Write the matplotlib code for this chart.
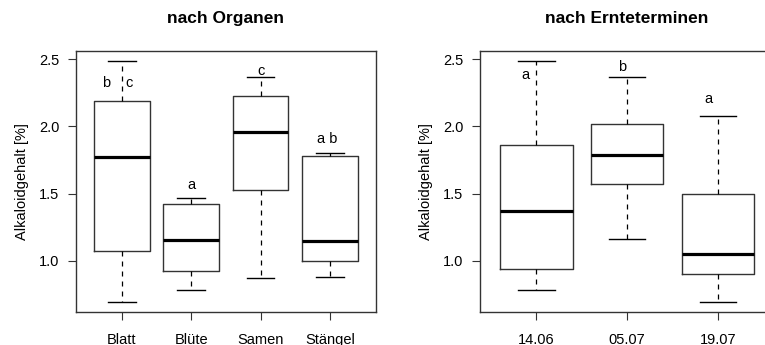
import matplotlib.pyplot as plt

plt.rcParams["font.family"] = ["Liberation Sans", "DejaVu Sans"]

# Alkaloidgehalt nach Organen
organ_labels = ["Blatt", "Blüte", "Samen", "Stängel"]
organ_whislo = [0.69, 0.78, 0.87, 0.88]
organ_q1 = [1.07, 0.92, 1.53, 1.00]
organ_med = [1.77, 1.155, 1.96, 1.15]
organ_q3 = [2.19, 1.42, 2.225, 1.78]
organ_whishi = [2.49, 1.47, 2.37, 1.80]
organ_letters = [("b", 0.77, 2.32), ("c", 1.11, 2.32), ("a", 2.0, 1.565),
                 ("c", 3.0, 2.415), ("a b", 3.96, 1.905)]

# Alkaloidgehalt nach Ernteterminen
date_labels = ["14.06", "05.07", "19.07"]
date_whislo = [0.78, 1.16, 0.69]
date_q1 = [0.94, 1.575, 0.90]
date_med = [1.37, 1.79, 1.05]
date_q3 = [1.86, 2.015, 1.495]
date_whishi = [2.49, 2.37, 2.08]
date_letters = [("a", 0.88, 2.38), ("b", 1.95, 2.44), ("a", 2.9, 2.205)]

EDGE = "#333333"


def draw_panel(ax, labels, whislo, q1, med, q3, whishi, letters, title):
    stats = []
    for i, lab in enumerate(labels):
        stats.append(dict(label=lab, whislo=whislo[i], q1=q1[i], med=med[i],
                          q3=q3[i], whishi=whishi[i], fliers=[]))
    n = len(labels)
    pos = list(range(1, n + 1))
    ax.bxp(stats, positions=pos, widths=0.8, capwidths=0.4, showfliers=False,
           boxprops=dict(color=EDGE, linewidth=1.0),
           whiskerprops=dict(color="black", linewidth=0.9, linestyle=(0, (4, 4))),
           capprops=dict(color="black", linewidth=1.0),
           medianprops=dict(color="black", linewidth=2.3, solid_capstyle="butt"))
    for txt, x, y in letters:
        ax.text(x, y, txt, ha="center", va="center", fontsize=10.5)
    ax.set_xlim(0.5 - 0.04 * n, n + 0.5 + 0.04 * n)
    ax.set_ylim(0.618, 2.562)
    ax.set_yticks([1.0, 1.5, 2.0, 2.5])
    ax.set_yticklabels(["1.0", "1.5", "2.0", "2.5"])
    ax.set_xticks(pos)
    ax.set_xticklabels(labels)
    ax.tick_params(axis="both", direction="out", length=6, width=0.8,
                   color=EDGE, labelsize=10.5, pad=6)
    ax.tick_params(axis="x", pad=9)
    for s in ax.spines.values():
        s.set_color(EDGE)
        s.set_linewidth(1.0)
    ax.set_ylabel("Alkaloidgehalt [%]", fontsize=10.5, labelpad=7)
    ax.set_title(title, fontsize=12.5, fontweight="bold", pad=20)


fig = plt.figure(figsize=(7.65, 3.45), dpi=100)
ax1 = fig.add_axes([0.0993, 0.0957, 0.392, 0.7565])
ax2 = fig.add_axes([0.6275, 0.0957, 0.3846, 0.7565])

draw_panel(ax1, organ_labels, organ_whislo, organ_q1, organ_med, organ_q3,
           organ_whishi, organ_letters, "nach Organen")
draw_panel(ax2, date_labels, date_whislo, date_q1, date_med, date_q3,
           date_whishi, date_letters, "nach Ernteterminen")

fig.savefig("out.png", dpi=100)
